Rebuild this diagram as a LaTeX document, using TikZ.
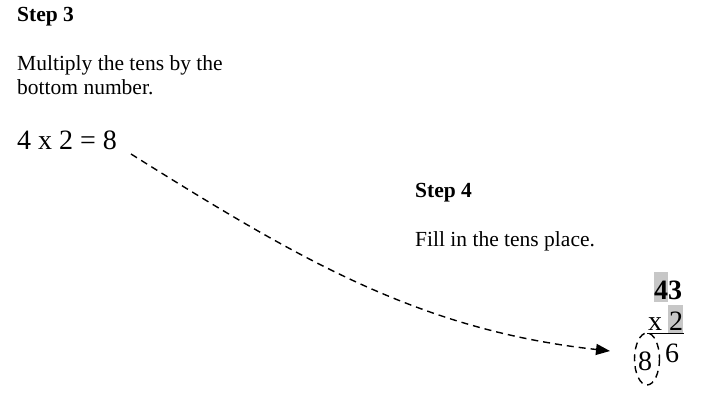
\documentclass[tikz,border=0pt]{standalone}
\usepackage{fontspec}
\setmainfont{Liberation Serif}
\usetikzlibrary{arrows.meta}
\begin{document}
\begin{tikzpicture}[x=1pt,y=-1pt,
  txt/.style={inner sep=0pt,anchor=base west,font=\fontsize{21.5}{32}\selectfont},
  big/.style={inner sep=0pt,anchor=base west,font=\fontsize{28}{32}\selectfont},
  dsh/.style={line width=1.4pt,dash pattern=on 7pt off 5pt},
  hl/.style={fill=black!22,draw=none}]
\useasboundingbox (0,0) rectangle (701,403);
\node[txt,font=\fontsize{21.5}{32}\selectfont\bfseries] (s3) at (17,22) {Step 3};
\node[txt] (m1) at (17,71) {Multiply the tens by the};
\node[txt] (m2) at (17,95) {bottom number.};
\node[big] (eq) at (17,150) {4 x 2 = 8};
\node[txt,font=\fontsize{21.5}{32}\selectfont\bfseries] (s4) at (415,198) {Step 4};
\node[txt] (fill) at (415,247) {Fill in the tens place.};
\fill[hl] (654,272) rectangle (668,302);
\fill[hl] (668,305) rectangle (683,333);
\node[big,font=\fontsize{28}{32}\selectfont\bfseries] (n43) at (654,299) {43};
\node[big] (x2) at (648,330) {x 2};
\draw[line width=1.1pt] (647,333.5) -- (684,333.5);
\node[big] (eight) at (638,370) {8};
\node[big] (six) at (665,362) {6};
\draw[dsh] (647,359) ellipse [x radius=12.5, y radius=26];
\coordinate (tip) at (610,351);
\draw[dsh,-{Triangle[length=14pt,width=11pt]}] (131,154) .. controls (300,260) and (420,330) .. (tip);
\end{tikzpicture}
\end{document}
